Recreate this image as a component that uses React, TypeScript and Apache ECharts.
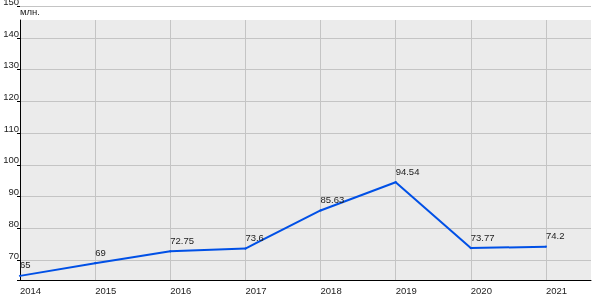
import React, { useEffect, useRef } from "react";
import * as echarts from "echarts";

const years = [2014, 2015, 2016, 2017, 2018, 2019, 2020, 2021];
const values = [65, 69, 72.75, 73.6, 85.63, 94.54, 73.77, 74.2];
const unitLabel = "млн.";

const Y_MIN = 63.7;
const Y_MAX = 150;
const X_MIN = 2014;
const X_MAX = 2021.6;

export default function App() {
  const ref = useRef<HTMLDivElement>(null);
  useEffect(() => {
    if (!ref.current) return;
    const chart = echarts.init(ref.current, null, { renderer: "svg" });
    const outerTop = 6.3;
    const innerTop = 20;
    const bottom = 20;
    const left = 20;
    const right = 9;
    const plotW = 600 - left - right;
    const pxPerYear = plotW / (X_MAX - X_MIN);
    const fullH = 300 - outerTop - bottom;
    const innerH = 300 - innerTop - bottom;
    const innerMax = Y_MIN + ((Y_MAX - Y_MIN) * innerH) / fullH;
    const gridXMax = Math.ceil(X_MAX);
    const extRight = right - (gridXMax - X_MAX) * pxPerYear;
    const font = "Liberation Sans, Arial, sans-serif";
    const textColor = "#222";
    const fs = 9.5;
    const gridColor = "#c4c4c4";
    const gridBase = { outerBoundsMode: "none", containLabel: false };
    chart.setOption({
      animation: false,
      textStyle: { fontFamily: font },
      grid: [
        {
          ...gridBase,
          left,
          right,
          top: innerTop,
          bottom,
          show: true,
          backgroundColor: "#ebebeb",
          borderWidth: 0,
        },
        { ...gridBase, left, right, top: outerTop, bottom, show: false },
        { ...gridBase, left, right: extRight, top: innerTop, bottom, show: false },
      ],
      xAxis: [
        {
          type: "value",
          gridIndex: 0,
          min: X_MIN,
          max: X_MAX,
          interval: 1,
          z: 5,
          axisLine: { show: true, lineStyle: { color: "#000", width: 1 } },
          axisTick: { show: false },
          splitLine: { show: false },
          axisLabel: {
            margin: 5,
            align: "left",
            fontSize: fs,
            color: textColor,
            fontFamily: font,
            formatter: (v: number) => (Number.isInteger(v) ? String(v) : ""),
          },
        },
        { type: "value", gridIndex: 1, min: 0, max: 1, show: false },
        {
          type: "value",
          gridIndex: 2,
          min: X_MIN,
          max: gridXMax,
          interval: 1,
          axisLine: { show: false },
          axisTick: { show: false },
          axisLabel: { show: false },
          splitLine: { show: true, lineStyle: { color: gridColor, width: 1 } },
        },
      ],
      yAxis: [
        {
          type: "value",
          gridIndex: 0,
          min: Y_MIN,
          max: innerMax,
          z: 5,
          axisLine: { show: true, lineStyle: { color: "#000", width: 1 } },
          axisTick: { show: false },
          axisLabel: { show: false },
          splitLine: { show: false },
        },
        {
          type: "value",
          gridIndex: 1,
          min: Y_MIN,
          max: Y_MAX,
          splitNumber: 8,
          minInterval: 10,
          maxInterval: 10,
          name: unitLabel,
          nameLocation: "end",
          nameGap: -5,
          nameTextStyle: {
            align: "left",
            verticalAlign: "middle",
            fontSize: fs,
            color: textColor,
            fontFamily: font,
          },
          axisLine: { show: false },
          axisTick: { show: true, length: 3, lineStyle: { color: "#000" } },
          splitLine: { show: true, lineStyle: { color: gridColor, width: 1 } },
          axisLabel: {
            margin: 1,
            verticalAlign: "bottom",
            fontSize: fs,
            color: textColor,
            fontFamily: font,
            formatter: (v: number) => (Number.isInteger(v) ? String(v) : ""),
          },
        },
        { type: "value", gridIndex: 2, min: 0, max: 1, show: false },
      ],
      series: [
        {
          type: "line",
          xAxisIndex: 0,
          yAxisIndex: 0,
          data: years.map((y, i) => [y, values[i]]),
          symbol: "circle",
          symbolSize: 2,
          showSymbol: true,
          itemStyle: { color: "#0050e6" },
          lineStyle: { color: "#0050e6", width: 2 },
          z: 10,
          label: {
            show: true,
            position: [1, -5],
            align: "left",
            verticalAlign: "bottom",
            fontSize: fs,
            color: textColor,
            fontFamily: font,
            formatter: (p: any) => String(p.value[1]),
          },
        },
      ],
    });
    return () => chart.dispose();
  }, []);
  return (
    <div
      ref={ref}
      style={{ position: "fixed", left: 0, top: 0, width: 600, height: 300 }}
    />
  );
}
